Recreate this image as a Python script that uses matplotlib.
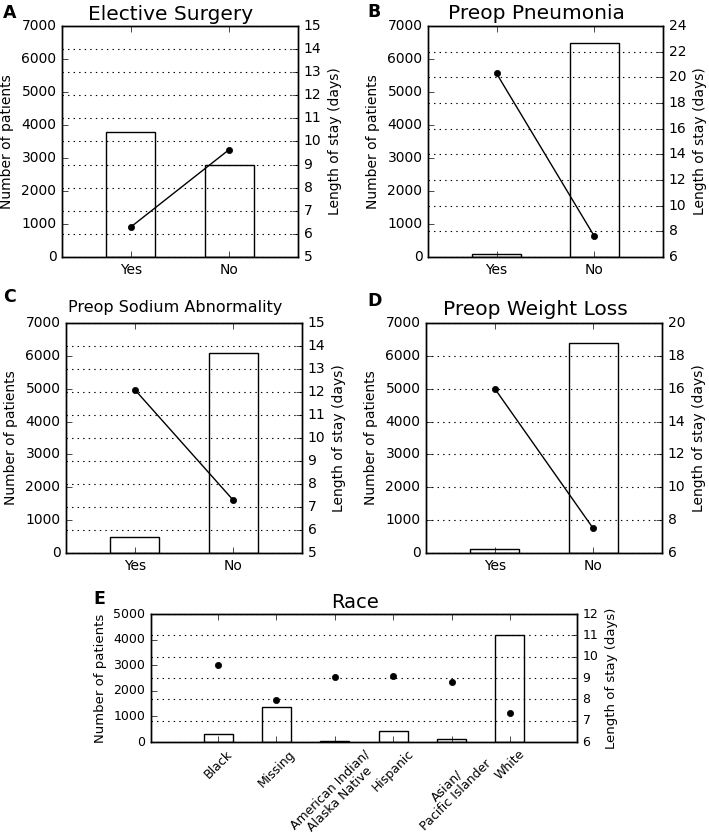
import matplotlib
matplotlib.use("Agg")
import matplotlib.pyplot as plt
import numpy as np

plt.style.use('classic')
plt.rcParams['font.family'] = ['DejaVu Sans']
plt.rcParams['figure.facecolor'] = 'white'
plt.rcParams['savefig.facecolor'] = 'white'

yes_no = ["Yes", "No"]

elective_n = [3800, 2800]
elective_los = [6.3, 9.65]

pneumonia_n = [100, 6500]
pneumonia_los = [20.3, 7.6]

sodium_n = [480, 6100]
sodium_los = [12.1, 7.3]

weight_n = [120, 6380]
weight_los = [16.0, 7.5]

race_labels = ["Black", "Missing", "American Indian/\nAlaska Native", "Hispanic",
               "Asian/\nPacific Islander", "White"]
race_n = [330, 1350, 20, 430, 120, 4180]
race_los = [9.6, 7.95, 9.05, 9.1, 8.8, 7.35]

W, H = 709, 840
fig = plt.figure(figsize=(W / 100, H / 100), dpi=100)

def rect(l, t, r, b):
    return [l / W, 1 - b / H, (r - l) / W, (b - t) / H]

def panel(box, cats, counts, los, ylim_n, yticks_n, ylim_los, yticks_los, title,
          title_fs, title_pad, xlim, connect=True, rot=0, tick_fs=10, lab_fs=10,
          xtick_fs=10):
    ax = fig.add_axes(rect(*box))
    x = np.arange(len(cats))
    ax.bar(x, counts, width=0.5, align='center', color='white', edgecolor='black',
           linewidth=1.0)
    ax.set_xlim(*xlim)
    ax.set_ylim(*ylim_n)
    ax.set_yticks(yticks_n)
    ax.set_xticks(x)
    if rot:
        ax.set_xticklabels(cats, rotation=rot, ha='center', fontsize=xtick_fs,
                           linespacing=1.0)
    else:
        ax.set_xticklabels(cats, fontsize=xtick_fs)
    ax.tick_params(axis='y', labelsize=tick_fs)
    ax.set_ylabel("Number of patients", fontsize=lab_fs)
    width_px = box[2] - box[0]
    ax.set_title(title, fontsize=title_fs, pad=title_pad, x=0.5 - 9.0 / width_px)
    ax2 = ax.twinx()
    if connect:
        ax2.plot(x, los, color='black', linewidth=1.0, marker='o', markersize=4.5,
                 markeredgecolor='black', markerfacecolor='black')
    else:
        ax2.plot(x, los, linestyle='none', marker='o', markersize=4.5,
                 markeredgecolor='black', markerfacecolor='black')
    ax2.set_ylim(*ylim_los)
    ax2.set_yticks(yticks_los)
    ax2.tick_params(axis='y', labelsize=tick_fs)
    ax2.set_ylabel("Length of stay (days)", fontsize=lab_fs)
    ax2.yaxis.grid(True, linestyle=':', color='black', linewidth=0.8)
    ax2.set_xlim(*xlim)
    return ax, ax2

panel((62, 26, 298, 257), yes_no, elective_n, elective_los, (0, 7000),
      np.arange(0, 7001, 1000), (5, 15), np.arange(5, 16, 1), "Elective Surgery", 14.5,
      4.5, (-0.7, 1.7))
panel((428, 26, 663, 257), yes_no, pneumonia_n, pneumonia_los, (0, 7000),
      np.arange(0, 7001, 1000), (6, 24), np.arange(6, 25, 2), "Preop Pneumonia", 14.5,
      5, (-0.7, 1.7))
panel((66, 323, 302, 553), yes_no, sodium_n, sodium_los, (0, 7000),
      np.arange(0, 7001, 1000), (5, 15), np.arange(5, 16, 1), "Preop Sodium Abnormality",
      11.5, 8, (-0.7, 1.7))
panel((426, 323, 662, 553), yes_no, weight_n, weight_los, (0, 7000),
      np.arange(0, 7001, 1000), (6, 20), np.arange(6, 21, 2), "Preop Weight Loss", 14.5,
      5.5, (-0.7, 1.7))
panel((151, 614, 577, 742), race_labels, race_n, race_los, (0, 5000),
      np.arange(0, 5001, 1000), (6, 12), np.arange(6, 13, 1), "Race", 14,
      4, (-1.15, 6.15), connect=False, rot=45, tick_fs=9, lab_fs=9.5, xtick_fs=9)

for letter, (px, py) in zip("ABCDE", [(3, 12.5), (367, 12), (3, 297), (367, 301.5),
                                       (93, 599)]):
    fig.text(px / W, 1 - py / H, letter, fontsize=12.5, fontweight='bold',
             ha='left', va='center')

fig.savefig("out.png", dpi=100)
